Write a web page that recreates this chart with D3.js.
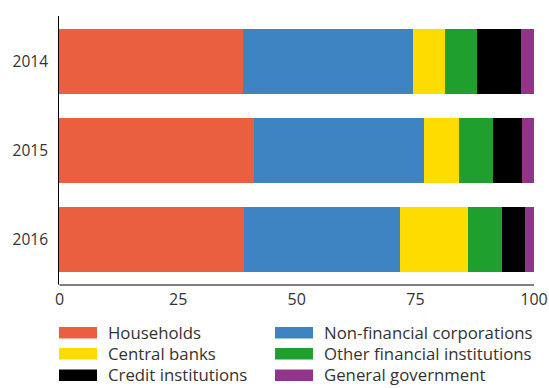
<!DOCTYPE html>
<html>
<head>
<meta charset="utf-8">
<script src="https://cdn.jsdelivr.net/npm/d3@7"></script>
<style>
  html, body { margin: 0; padding: 0; background: #fff; }
  svg { display: block; }
  text { font-family: "Open Sans", sans-serif; fill: #333; }
</style>
</head>
<body>
<svg id="chart" width="549" height="388"></svg>
<script>
// Shares of holdings by sector, per year (per cent of total)
const years = ["2014", "2015", "2016"];
const households     = [38.7, 41.1, 39.0];
const nonFinancial   = [35.8, 35.9, 32.9];
const centralBanks   = [6.9, 7.4, 14.4];
const otherFinancial = [6.6, 7.0, 7.0];
const creditInst     = [9.3, 6.1, 5.0];
const generalGov     = [2.7, 2.5, 1.7];
const xTicks = [0, 25, 50, 75, 100];

const sectors = [
  { key: "Households", values: households, color: "#e95f40" },
  { key: "Non-financial corporations", values: nonFinancial, color: "#3e84c2" },
  { key: "Central banks", values: centralBanks, color: "#ffdc00" },
  { key: "Other financial institutions", values: otherFinancial, color: "#1fa02e" },
  { key: "Credit institutions", values: creditInst, color: "#000000" },
  { key: "General government", values: generalGov, color: "#923488" }
];

// Build a row per year for the stack layout
const rows = years.map((yr, i) => {
  const r = { year: yr };
  sectors.forEach(s => { r[s.key] = s.values[i]; });
  return r;
});

const svg = d3.select("#chart");
const plotLeft = 59, plotRight = 533.5, plotTop = 16, plotBottom = 284.5;

const x = d3.scaleLinear().domain([0, 100]).range([plotLeft, plotRight]);
const y = d3.scaleBand().domain(years).range([plotTop, plotBottom])
  .paddingInner(0.27).paddingOuter(0.145);

const stack = d3.stack().keys(sectors.map(s => s.key));
const layers = stack(rows);
const colorOf = new Map(sectors.map(s => [s.key, s.color]));

// Vertical axis line
svg.append("line")
  .attr("x1", plotLeft - 0.5).attr("x2", plotLeft - 0.5)
  .attr("y1", plotTop).attr("y2", plotBottom)
  .attr("stroke", "#000").attr("stroke-width", 1);

// Stacked bars
svg.append("g").selectAll("g")
  .data(layers)
  .join("g")
  .attr("fill", d => colorOf.get(d.key))
  .selectAll("rect")
  .data(d => d)
  .join("rect")
  .attr("x", d => x(d[0]))
  .attr("width", d => x(d[1]) - x(d[0]))
  .attr("y", d => y(d.data.year))
  .attr("height", y.bandwidth())
  .attr("shape-rendering", "crispEdges");

// Category labels
svg.append("g").selectAll("text")
  .data(years)
  .join("text")
  .attr("x", 48)
  .attr("y", d => y(d) + y.bandwidth() / 2)
  .attr("dy", "0.36em")
  .attr("text-anchor", "end")
  .attr("font-size", 15.5)
  .text(d => d);

// Horizontal axis
const xAxis = d3.axisBottom(x).tickValues(xTicks).tickSize(0).tickPadding(9)
  .tickFormat(d3.format("d"));
const gx = svg.append("g").attr("transform", `translate(0,${plotBottom})`).call(xAxis);
gx.select(".domain").attr("stroke", "#555").attr("stroke-width", 1.3);
gx.selectAll("text")
  .attr("font-size", 16)
  .attr("fill", "#333")
  .style("font-family", "'Open Sans', sans-serif");

// Legend, two columns
const legend = svg.append("g");
const colX = [59, 275];
const rowY = [327, 348, 369.5];
sectors.forEach((s, i) => {
  const cx = colX[i % 2], ry = rowY[Math.floor(i / 2)];
  const g = legend.append("g").attr("transform", `translate(${cx},${ry})`);
  g.append("rect").attr("width", 38).attr("height", 11.5).attr("fill", s.color);
  g.append("text")
    .attr("x", 49).attr("y", 5.75).attr("dy", "0.36em")
    .attr("font-size", 16.8)
    .text(s.key);
});
</script>
</body>
</html>
